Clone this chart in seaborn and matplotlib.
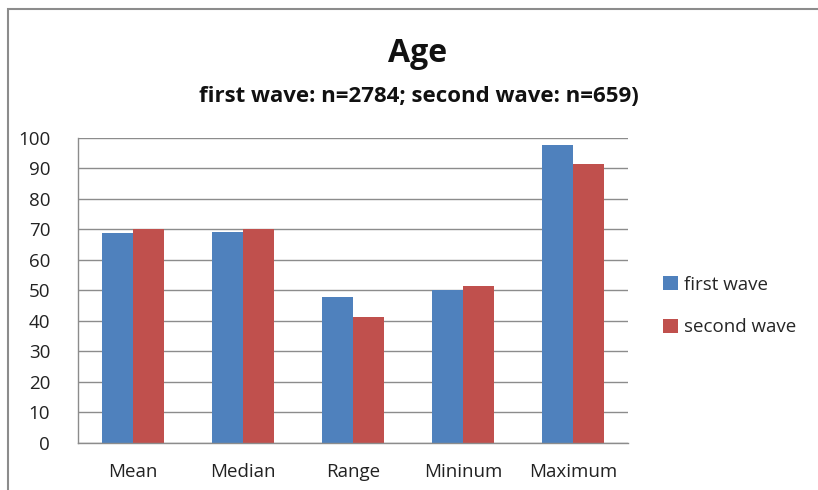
import matplotlib
matplotlib.use("Agg")
import matplotlib.pyplot as plt
import seaborn as sns
import pandas as pd
from matplotlib.patches import Rectangle

categories = ["Mean", "Median", "Range", "Mininum", "Maximum"]
first_wave = [68.6, 69.0, 47.9, 50.1, 97.7]
second_wave = [70.0, 70.0, 41.2, 51.2, 91.5]
series_names = ["first wave", "second wave"]
yticks = list(range(0, 101, 10))

df = pd.DataFrame({
    "stat": categories * 2,
    "value": first_wave + second_wave,
    "wave": [series_names[0]] * len(categories) + [series_names[1]] * len(categories),
})

sns.set_style("white")
plt.rcParams["font.family"] = ["Open Sans", "DejaVu Sans"]

W, H = 818, 490
fig = plt.figure(figsize=(W / 100, H / 100), dpi=100)
ax = fig.add_axes([78 / W, 1 - 442.5 / H, (628 - 78) / W, (442.5 - 137.7) / H])

sns.barplot(data=df, x="stat", y="value", hue="wave", order=categories,
            hue_order=series_names, palette=["#4F81BD", "#C0504D"],
            width=0.56, gap=0, saturation=1, ax=ax, legend=True,
            edgecolor="none")

ax.set_ylim(0, 100)
ax.set_xlim(-0.5, len(categories) - 0.5)
ax.set_yticks(yticks)
ax.set_yticklabels([str(t) for t in yticks], fontsize=13.5, color="#222222")
ax.set_xticks(range(len(categories)))
ax.set_xticklabels(categories, fontsize=13.5, color="#222222")
ax.tick_params(axis="both", length=0)
ax.tick_params(axis="y", pad=20)
ax.tick_params(axis="x", pad=15)
ax.set_xlabel("")
ax.set_ylabel("")
ax.yaxis.grid(True, color="#8c8c8c", linewidth=1)
ax.set_axisbelow(True)
for s in ["top", "right"]:
    ax.spines[s].set_visible(False)
for s in ["left", "bottom"]:
    ax.spines[s].set_color("#8c8c8c")
    ax.spines[s].set_linewidth(1)

handles, labels = ax.get_legend_handles_labels()
ax.legend(handles, labels, loc="center left",
          bbox_to_anchor=(646 / W, 1 - 306 / H), bbox_transform=fig.transFigure,
          frameon=False, fontsize=13.5, handlelength=0.8, handleheight=0.8,
          handletextpad=0.3, labelspacing=1.3)

fig.text(418 / W, 1 - 54 / H, "Age", ha="center", va="center",
         fontsize=23, fontweight="bold", color="#111111")
fig.text(419 / W, 1 - 96 / H, "first wave: n=2784; second wave: n=659)",
         ha="center", va="center", fontsize=16, fontweight="bold", color="#111111")

fig.patches.append(Rectangle((8 / W, -0.1), 1.2, 1 - 9 / H + 0.1,
                             transform=fig.transFigure, fill=False,
                             edgecolor="#8c8c8c", linewidth=1.5, figure=fig))

fig.savefig("out.png", dpi=100)
